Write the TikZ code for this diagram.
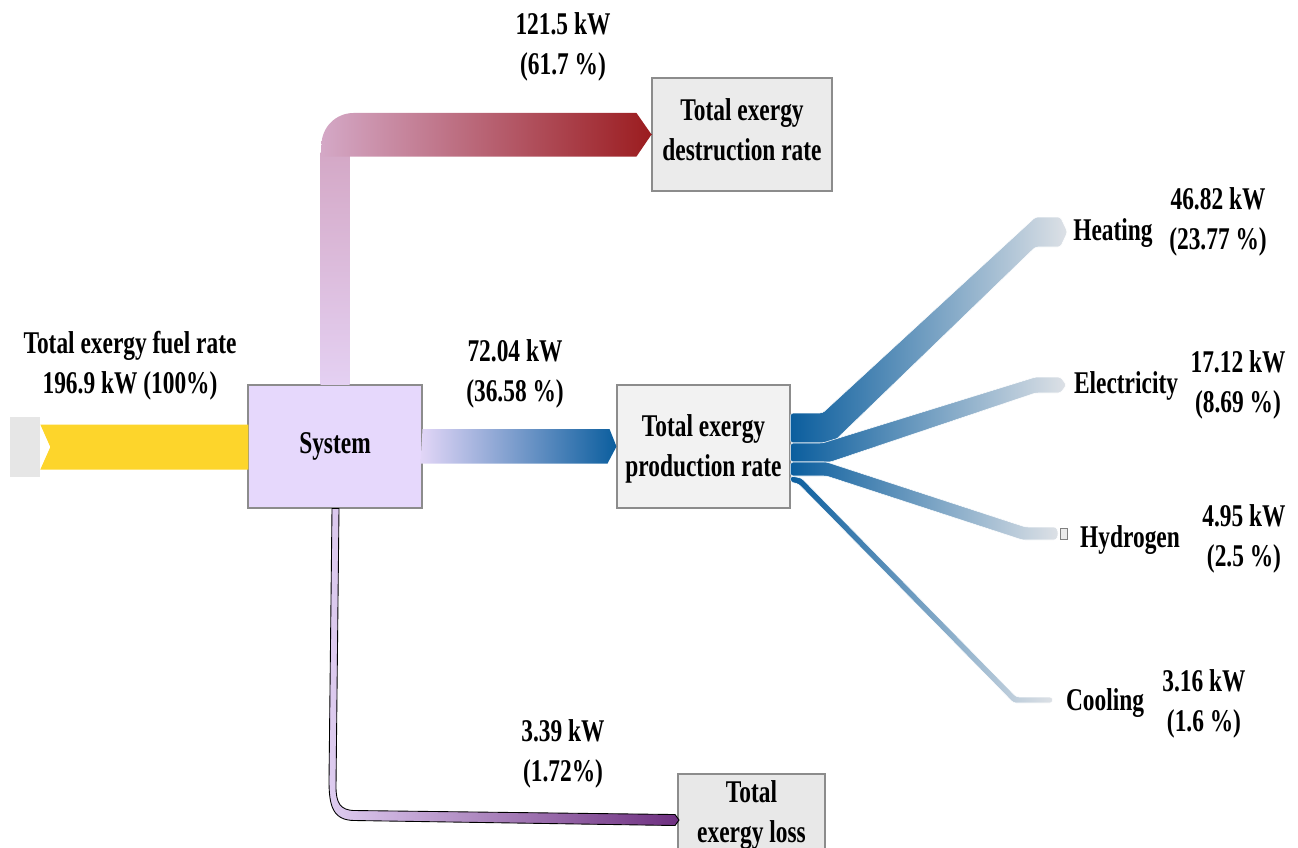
\documentclass[tikz,border=0pt]{standalone}
\usepackage{fontspec}
\setmainfont{Liberation Serif}[FakeStretch=0.74]
\usetikzlibrary{calc}
\definecolor{fuelYellow}{RGB}{253,213,43}
\definecolor{inGray}{RGB}{230,230,230}
\definecolor{sysLila}{RGB}{230,216,252}
\definecolor{destPink}{RGB}{212,168,198}
\definecolor{destLow}{RGB}{228,208,242}
\definecolor{destRed}{RGB}{155,28,31}
\definecolor{prodLow}{RGB}{226,214,247}
\definecolor{prodBlue}{RGB}{11,94,158}
\definecolor{outGray}{RGB}{221,225,230}
\definecolor{lossLow}{RGB}{222,204,240}
\definecolor{lossPurple}{RGB}{110,47,128}
\newcommand{\flowfont}{\bfseries\fontsize{18}{22.7}\selectfont}
\tikzstyle{blockbox} = [draw=black!45,line width=0.6pt,inner sep=0pt,align=center,font=\flowfont]
\tikzstyle{flowlabel} = [inner sep=0pt,align=center,font=\flowfont]
\tikzstyle{outband} = [left color=prodBlue,right color=outGray,draw=white,line width=0.3pt,rounded corners=1.5pt]

\begin{document}
\begin{tikzpicture}[x=0.02cm,y=-0.02cm]
\useasboundingbox (0,0) rectangle (1298,848);
\clip (0,0) rectangle (1298,848);
\node[fill=inGray,minimum width=0.6cm,minimum height=1.2cm,inner sep=0pt] (inbox) at (25,447) {};
\node[blockbox,fill=sysLila,minimum width=3.48cm,minimum height=2.46cm] (sys) at (335,446.5) {System};
\node[blockbox,fill=black!5,minimum width=3.46cm,minimum height=2.46cm] (prod) at (703.5,446.5) {};
\node[flowlabel] (prodtext) at ($(prod.center)+(0,2)$) {Total exergy\\production rate};
\node[blockbox,fill=black!8,minimum width=3.6cm,minimum height=2.26cm] (dest) at (742,134.5) {};
\node[flowlabel] (desttext) at ($(dest.center)+(0,-5)$) {Total exergy\\destruction rate};
\node[blockbox,fill=black!9,minimum width=2.94cm,minimum height=1.56cm] (loss) at (751.5,813) {};
\node[flowlabel] (losstext) at ($(loss.center)+(0,2)$) {Total\\exergy loss};

\fill[fuelYellow] (inbox.east) ++(0,-22.5) -- ++(208,0) -- ++(0,45) -- ++(-208,0) -- ++(10,-22.5) -- cycle;
\shade[bottom color=destLow,top color=destPink] (sys.north) ++(-14.5,0) -- ++(0,-232) -- ++(29,0) -- ++(0,232) -- cycle;
\shade[left color=destPink,right color=destRed] (dest.west) -- ++(-15,-21.5) -- ++(-283,0) arc[start angle=270,end angle=180,radius=32] -- ++(0,11.5) -- ++(315,0) -- cycle;
\shade[left color=prodLow,right color=prodBlue] (sys.east) ++(0,-17.5) -- ++(187,0) -- (prod.west) -- ++(-9,17) -- ++(-187,0) -- cycle;
\shade[outband] (prod.east) ++(0,-33.5) -- ++(32,0) -- ++(213,-196) -- ++(25,0) -- ++(7,15) -- ++(-7,15) -- ++(-25,0) -- ++(-203,196) -- ++(-42,0) -- cycle;
\shade[outband] (prod.east) ++(0,-3.5) -- ++(32,0) -- ++(213,-66) -- ++(25,0) -- ++(6,8) -- ++(-6,8) -- ++(-25,0) -- ++(-205,69) -- ++(-40,0) -- cycle;
\shade[outband] (prod.east) ++(0,15.5) -- ++(36,0) -- ++(199,65) -- ++(31,0) -- ++(2,6.5) -- ++(-2,6.5) -- ++(-34,0) -- ++(-196,-64) -- ++(-36,0) -- cycle;
\shade[outband] (prod.east) ++(0,29.5) -- ++(11,2) -- ++(215,219) -- ++(36,0) -- ++(0,6) -- ++(-39,0) -- ++(-215,-219) -- ++(-8,-2) -- cycle;
\node[draw=black!50,fill=black!8,minimum width=0.14cm,minimum height=0.22cm,inner sep=0pt,line width=0.4pt] (hydmark) at (1063.5,533.5) {};
\shade[left color=lossLow,right color=lossPurple,draw=black,line width=0.5pt] (sys.south) ++(-3,0) -- ++(-3,272) .. controls +(0,26) and +(-22,0) .. ++(26,40) -- ++(320,5) -- ++(4,-5.5) -- ++(-4,-5.5) -- ++(-320,-4) .. controls +(-15,0) and +(0,16) .. ++(-19,-24) -- ++(3,-278) -- cycle;

\node[flowlabel] (fuellbl) at (130,366) {Total exergy fuel rate\\196.9 kW (100\%)};
\node[flowlabel] (destlbl) at (563,47) {121.5 kW\\(61.7 \%)};
\node[flowlabel] (prodlbl) at (515,374) {72.04 kW\\(36.58 \%)};
\node[flowlabel] (losslbl) at (563,754) {3.39 kW\\(1.72\%)};
\node[flowlabel] (heatname) at (1113,233) {Heating};
\node[flowlabel] (heatval) at (1218,222) {46.82 kW\\(23.77 \%)};
\node[flowlabel] (elecname) at (1126,386) {Electricity};
\node[flowlabel] (elecval) at (1238,385) {17.12 kW\\(8.69 \%)};
\node[flowlabel] (hydname) at (1130,540) {Hydrogen};
\node[flowlabel] (hydval) at (1244,539) {4.95 kW\\(2.5 \%)};
\node[flowlabel] (coolname) at (1105,703) {Cooling};
\node[flowlabel] (coolval) at (1204,704) {3.16 kW\\(1.6 \%)};
\end{tikzpicture}
\end{document}
